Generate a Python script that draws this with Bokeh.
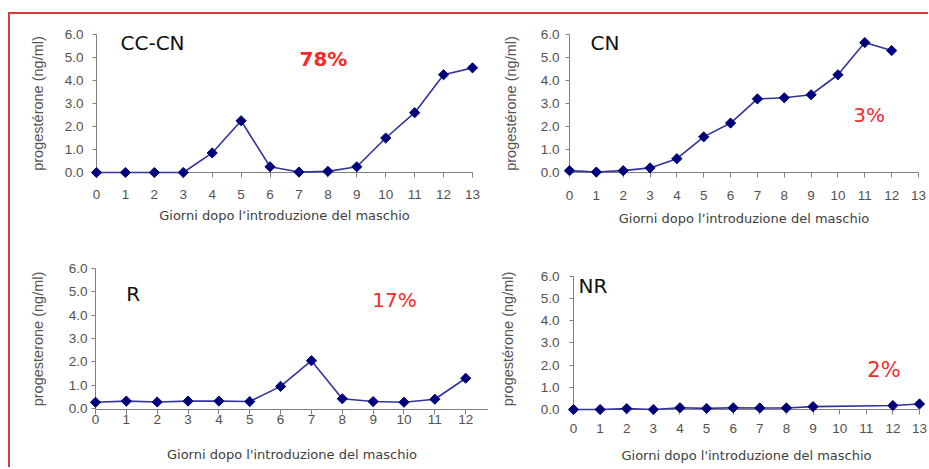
import numpy as np
from bokeh.plotting import figure
from bokeh.layouts import row, column
from bokeh.models import FixedTicker, PrintfTickFormatter, Label, Range1d, Spacer
from bokeh.embed import file_html
from bokeh.resources import INLINE

# ---- data ----
days_cccn = list(range(14))
prog_cccn = [0.0, 0.0, 0.0, 0.0, 0.85, 2.25, 0.25, 0.02, 0.05, 0.25, 1.5, 2.6, 4.25, 4.55]
days_cn = list(range(13))
prog_cn = [0.08, 0.02, 0.08, 0.2, 0.6, 1.55, 2.15, 3.2, 3.25, 3.38, 4.25, 5.65, 5.3]
days_r = list(range(13))
prog_r = [0.27, 0.32, 0.28, 0.32, 0.32, 0.3, 0.95, 2.05, 0.42, 0.3, 0.27, 0.4, 1.3]
days_nr = [0, 1, 2, 3, 4, 5, 6, 7, 8, 9, 12, 13]
prog_nr = [0.0, 0.0, 0.04, 0.0, 0.08, 0.05, 0.08, 0.07, 0.07, 0.13, 0.18, 0.25]

y_ticks = [0, 1, 2, 3, 4, 5, 6]
x_ticks_13 = list(range(14))
x_ticks_12 = list(range(13))

groups = ["CC-CN", "CN", "R", "NR"]
percents = ["78%", "3%", "17%", "2%"]
xlabel_a = "Giorni dopo l\u2019introduzione del maschio"
xlabel_b = "Giorni dopo l'introduzione del maschio"
ylabel_a = "progest\u00e9rone (ng/ml)"
ylabel_b = "progesterone (ng/ml)"

LINE = "#33339c"
MARK = "#00007a"
AXIS = "#808080"
RED = "#f42a2a"
BORDER = "#dc3a3a"


def make_panel(cw, ch, mbl, mbt, fw, fh, xr, yr, ybounds, days, vals, xticks,
               xstd, xlstd, ystd, ylstd, xlabel, ylabel,
               name, name_xy, pct, pct_xy, pct_bold, pct_size):
    mbr = max(cw - mbl - fw, 0)
    mbb = max(ch - mbt - fh, 0)
    p = figure(frame_width=fw, frame_height=fh,
               min_border_left=mbl, min_border_right=mbr,
               min_border_top=mbt, min_border_bottom=mbb,
               x_range=Range1d(*xr), y_range=Range1d(*yr),
               output_backend="svg", toolbar_location=None, tools="")
    p.outline_line_color = None
    p.xgrid.visible = False
    p.ygrid.visible = False
    p.background_fill_color = "white"
    p.border_fill_color = "white"

    p.line(days, vals, line_color=LINE, line_width=1.6, level="overlay")
    p.scatter(days, vals, marker="square", angle=np.pi / 4, size=7.2,
              fill_color=MARK, line_color=MARK, level="overlay")

    xa = p.xaxis[0]
    xa.ticker = FixedTicker(ticks=xticks)
    xa.minor_tick_line_color = None
    xa.major_tick_in = 0
    xa.major_tick_out = 5
    xa.axis_line_color = AXIS
    xa.major_tick_line_color = AXIS
    xa.major_label_text_font = "Liberation Sans"
    xa.major_label_text_font_size = "13.5px"
    xa.major_label_text_color = "#555050"
    xa.major_label_standoff = xstd
    xa.axis_label = xlabel
    xa.axis_label_text_font = "DejaVu Sans"
    xa.axis_label_text_font_size = "13px"
    xa.axis_label_text_font_style = "normal"
    xa.axis_label_text_color = "#404040"
    xa.axis_label_standoff = xlstd

    ya = p.yaxis[0]
    if ybounds is not None:
        ya.bounds = ybounds
    ya.ticker = FixedTicker(ticks=y_ticks)
    ya.formatter = PrintfTickFormatter(format="%.1f")
    ya.minor_tick_line_color = None
    ya.major_tick_in = 0
    ya.major_tick_out = 4
    ya.axis_line_color = AXIS
    ya.major_tick_line_color = AXIS
    ya.major_label_text_font = "Liberation Sans"
    ya.major_label_text_font_size = "13.5px"
    ya.major_label_text_color = "#555050"
    ya.major_label_standoff = ystd
    ya.axis_label = ylabel
    ya.axis_label_text_font = "Liberation Sans"
    ya.axis_label_text_font_size = "14.5px"
    ya.axis_label_text_font_style = "normal"
    ya.axis_label_text_color = "#555555"
    ya.axis_label_standoff = ylstd

    p.add_layout(Label(x=name_xy[0], y=name_xy[1], text=name,
                       text_font="DejaVu Sans", text_font_size="20px",
                       text_color="#111111", text_baseline="middle"))
    p.add_layout(Label(x=pct_xy[0], y=pct_xy[1], text=pct,
                       text_font="DejaVu Sans", text_font_size=pct_size,
                       text_font_style="bold" if pct_bold else "normal",
                       text_color=RED, text_baseline="middle"))
    return p


WL, WR = 478, 440
HT, HB = 222, 231

pA = make_panel(WL, HT, 86, 20, 376, 138, (0, 13.0), (0, 6), None,
                days_cccn, prog_cccn, x_ticks_13, 12, 6, 9, 16,
                xlabel_a, ylabel_a, groups[0], (0.83, 5.63), percents[0], (7.02, 4.94), True, "20px")
pB = make_panel(WR, HT, 81, 20, 349, 138, (0, 13.0), (0, 6), None,
                days_cn, prog_cn, x_ticks_13, 13, 8, 6, 19,
                xlabel_a, ylabel_a, groups[1], (0.78, 5.65), percents[1], (10.57, 2.51), False, "20px")
pC = make_panel(WL, HB, 85, 32, 393, 141, (0, 12.74), (-0.04, 6.0), None,
                days_r, prog_r, x_ticks_12, 0, 20, 4, 20,
                xlabel_b, ylabel_b, groups[2], (1.0, 4.92), percents[2], (8.97, 4.67), False, "20px")
pD = make_panel(WR, HB, 85, 32, 346, 141, (0, 13.0), (0, 6.36), (0, 6),
                days_nr, prog_nr, x_ticks_13, 9, 12, 10, 22,
                xlabel_b, ylabel_a, groups[3], (0.19, 5.55), percents[3], (11.04, 1.77), False, "21px")

bg = {"background-color": BORDER}
top_gap = Spacer(width=928, height=12)
left_gap = Spacer(width=8, height=HT + HB + 2)
red_left = Spacer(width=2, height=HT + HB + 2, styles=bg)
red_top = Spacer(width=WL + WR, height=2, styles=bg)

charts = column(red_top, row(pA, pB), row(pC, pD))
layout = column(top_gap, row(left_gap, red_left, charts))

open("out.html", "w").write(file_html(layout, INLINE))
